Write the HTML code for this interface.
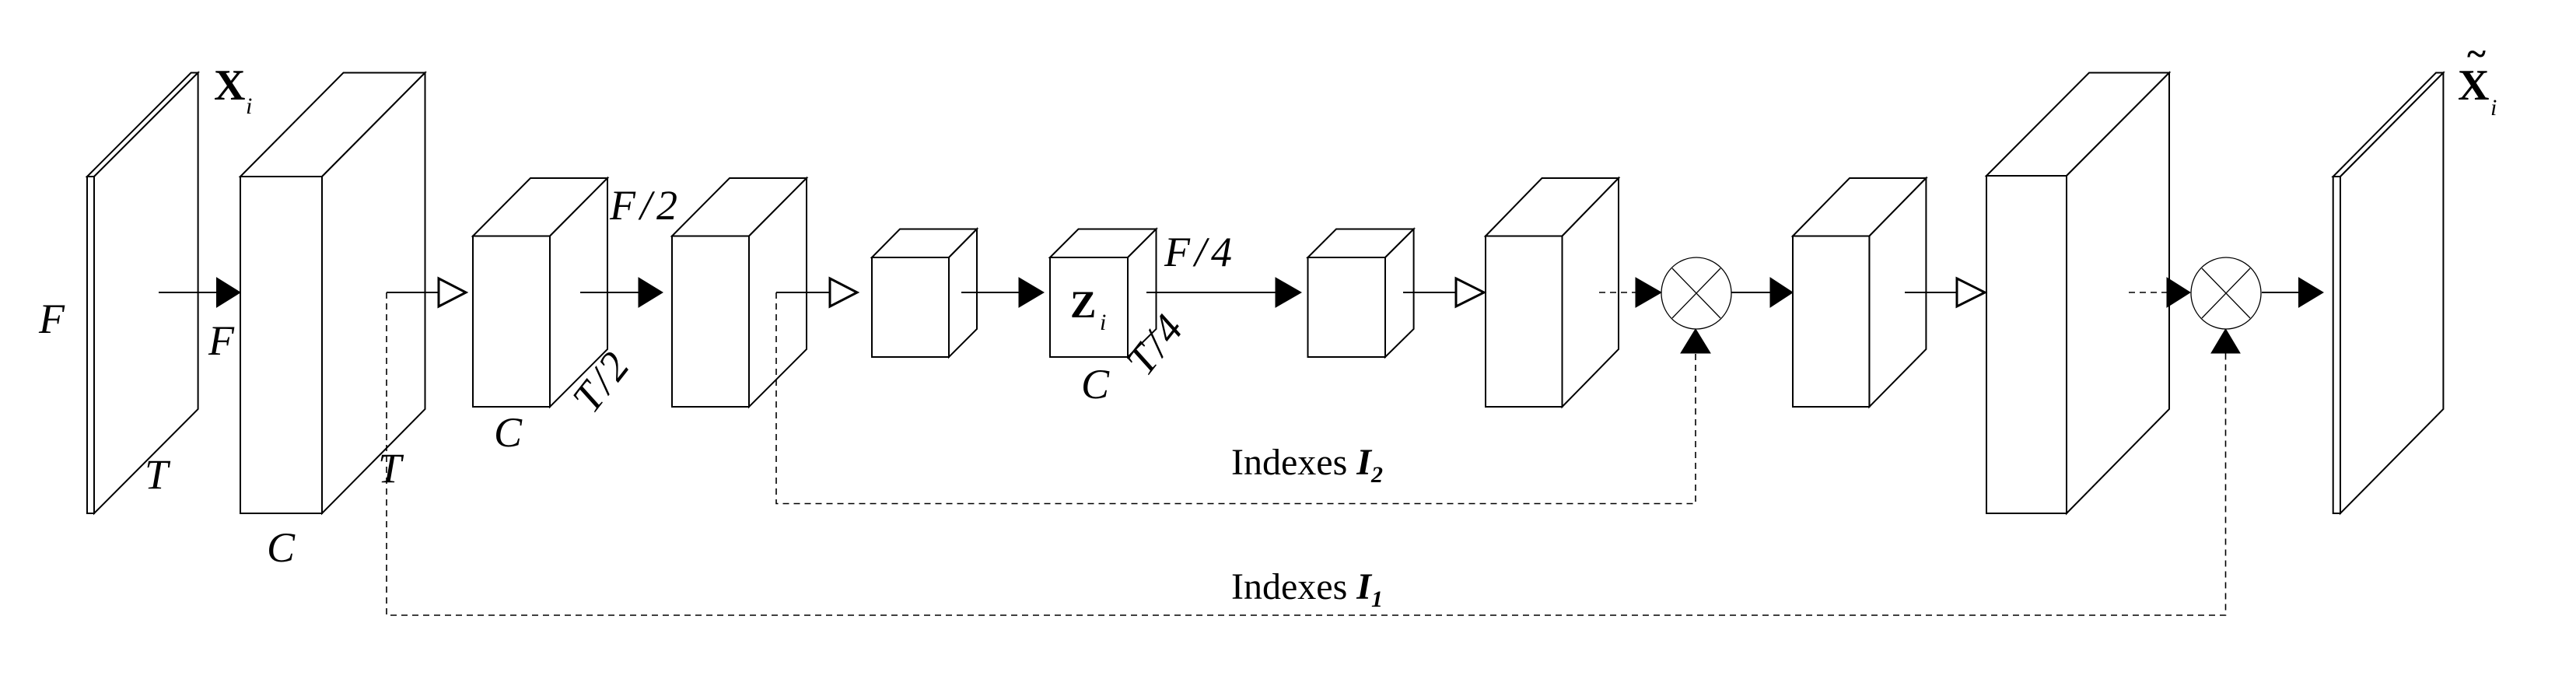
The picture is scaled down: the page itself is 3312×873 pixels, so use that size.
<!DOCTYPE html>
<html><head><meta charset="utf-8"><style>
html,body{margin:0;padding:0;background:#fff;}
svg{display:block}
text{font-family:"Liberation Serif",serif;fill:#000}
.m{font-style:italic;font-size:54px}
</style></head><body>
<svg width="3312" height="873" viewBox="0 0 3312 873" xmlns="http://www.w3.org/2000/svg">
<g fill="#fff" stroke="#000" stroke-width="2" stroke-linejoin="miter">
<polygon points="112,227 245.6,93.5 254.6,93.5 121,227"/>
<polygon points="121,227 254.6,93.5 254.6,526 121,660"/>
<rect x="112" y="227" width="9" height="433"/>
<polygon points="309,227 441.5,93.5 546.5,93.5 414,227"/>
<polygon points="414,227 546.5,93.5 546.5,526 414,660"/>
<rect x="309" y="227" width="105" height="433"/>
<polygon points="608,303.5 682,229 781,229 707,303.5"/>
<polygon points="707,303.5 781,229 781,449 707,523"/>
<rect x="608" y="303.5" width="99" height="219.5"/>
<polygon points="864,303.5 938,229 1037,229 963,303.5"/>
<polygon points="963,303.5 1037,229 1037,449 963,523"/>
<rect x="864" y="303.5" width="99" height="219.5"/>
<polygon points="1121,331 1157,294.5 1256,294.5 1220,331"/>
<polygon points="1220,331 1256,294.5 1256,423 1220,459"/>
<rect x="1121" y="331" width="99" height="128"/>
<polygon points="1350,331 1386.5,294.5 1486.5,294.5 1450,331"/>
<polygon points="1450,331 1486.5,294.5 1486.5,423 1450,459"/>
<rect x="1350" y="331" width="100" height="128"/>
<polygon points="1681.5,331 1718,294.5 1817.6,294.5 1781,331"/>
<polygon points="1781,331 1817.6,294.5 1817.6,423 1781,459"/>
<rect x="1681.5" y="331" width="99.5" height="128"/>
<polygon points="1910,303.5 1982.5,229 2081,229 2008.5,303.5"/>
<polygon points="2008.5,303.5 2081,229 2081,449 2008.5,523"/>
<rect x="1910" y="303.5" width="98.5" height="219.5"/>
<polygon points="2305,303.5 2378,229 2476.4,229 2403.4,303.5"/>
<polygon points="2403.4,303.5 2476.4,229 2476.4,449 2403.4,523"/>
<rect x="2305" y="303.5" width="98.4" height="219.5"/>
<polygon points="2554,226 2686,93.5 2789,93.5 2657,226"/>
<polygon points="2657,226 2789,93.5 2789,526 2657,660"/>
<rect x="2554" y="226" width="103" height="434"/>
<polygon points="2999.7,227 3132,93.5 3141.4,93.5 3009,227"/>
<polygon points="3009,227 3141.4,93.5 3141.4,526 3009,660"/>
<rect x="2999.7" y="227" width="9.3" height="433"/>
</g>
<g stroke="#000" stroke-width="2" fill="none">
<line x1="204" y1="376" x2="280" y2="376"/>
<line x1="497" y1="376" x2="565" y2="376"/>
<line x1="746" y1="376" x2="822" y2="376"/>
<line x1="998" y1="376" x2="1070" y2="376"/>
<line x1="1236" y1="376" x2="1311" y2="376"/>
<line x1="1474" y1="376" x2="1641" y2="376"/>
<line x1="1804" y1="376" x2="1873" y2="376"/>
<line x1="2226" y1="376" x2="2277" y2="376"/>
<line x1="2449" y1="376" x2="2517" y2="376"/>
<line x1="2908" y1="376" x2="2957" y2="376"/>
</g>
<g stroke="#000" stroke-width="1.6" fill="none" stroke-dasharray="8,6">
<line x1="2056" y1="376" x2="2104" y2="376"/>
<line x1="2737" y1="376" x2="2787" y2="376"/>
<polyline points="998,376 998,647.5 2180,647.5 2180,454"/>
<polyline points="497,376 497,791 2861.5,791 2861.5,454"/>
</g>
<g fill="#000" stroke="#000" stroke-width="1">
<polygon points="278.5,357 309,376 278.5,395"/>
<polygon points="821,357 852,376 821,395"/>
<polygon points="1310,357 1342,376 1310,395"/>
<polygon points="1640,357 1673,376 1640,395"/>
<polygon points="2103,357 2136,376 2103,395"/>
<polygon points="2276,357 2305,376 2276,395"/>
<polygon points="2786,357 2816,376 2786,395"/>
<polygon points="2955.5,357 2987,376 2955.5,395"/>
<polygon points="2161,454 2180,423 2199,454"/>
<polygon points="2843,454 2861.5,423 2880,454"/>
</g>
<g fill="#fff" stroke="#000" stroke-width="3">
<polygon points="564,358 599,376 564,394"/>
<polygon points="1067,358 1102,376 1067,394"/>
<polygon points="1872,358 1908,376 1872,394"/>
<polygon points="2516,358 2552,376 2516,394"/>
</g>
<g fill="#fff" stroke="#000" stroke-width="1.3">
<ellipse cx="2181" cy="377" rx="45" ry="46"/>
<line x1="2150" y1="345" x2="2212" y2="409"/>
<line x1="2212" y1="345" x2="2150" y2="409"/>
<ellipse cx="2862" cy="377" rx="45" ry="46"/>
<line x1="2831" y1="345" x2="2893" y2="409"/>
<line x1="2893" y1="345" x2="2831" y2="409"/>
</g>
<text x="275" y="128" font-size="56" font-weight="bold">X</text>
<text x="316" y="146" font-size="30" font-style="italic">i</text>
<text x="3160" y="128" font-size="56" font-weight="bold">X</text>
<text x="3172" y="84" font-size="46" font-weight="bold">~</text>
<text x="3202" y="148" font-size="30" font-style="italic">i</text>
<text class="m" x="50" y="428">F</text>
<text class="m" x="268" y="456">F</text>
<text class="m" x="186" y="628">T</text>
<text class="m" x="486" y="620">T</text>
<text class="m" x="343" y="722">C</text>
<text class="m" x="784" y="282" letter-spacing="6">F/2</text>
<text class="m" x="635" y="574">C</text>
<text class="m" x="762" y="534" transform="rotate(-52 762 534)" letter-spacing="4">T/2</text>
<text x="1376" y="408" font-size="50" font-weight="bold">Z</text>
<text x="1414" y="424" font-size="30" font-style="italic">i</text>
<text class="m" x="1497" y="342" font-size="48" letter-spacing="6">F/4</text>
<text class="m" x="1390" y="512" font-size="46">C</text>
<text class="m" x="1474" y="486" font-size="44" transform="rotate(-52 1474 486)" letter-spacing="4">T/4</text>
<text x="1583" y="610" font-size="48">Indexes <tspan font-weight="bold" font-style="italic">I</tspan><tspan font-size="30" font-weight="bold" font-style="italic" dy="10">2</tspan></text>
<text x="1583" y="770" font-size="48">Indexes <tspan font-weight="bold" font-style="italic">I</tspan><tspan font-size="30" font-weight="bold" font-style="italic" dy="10">1</tspan></text>
</svg>
</body></html>
